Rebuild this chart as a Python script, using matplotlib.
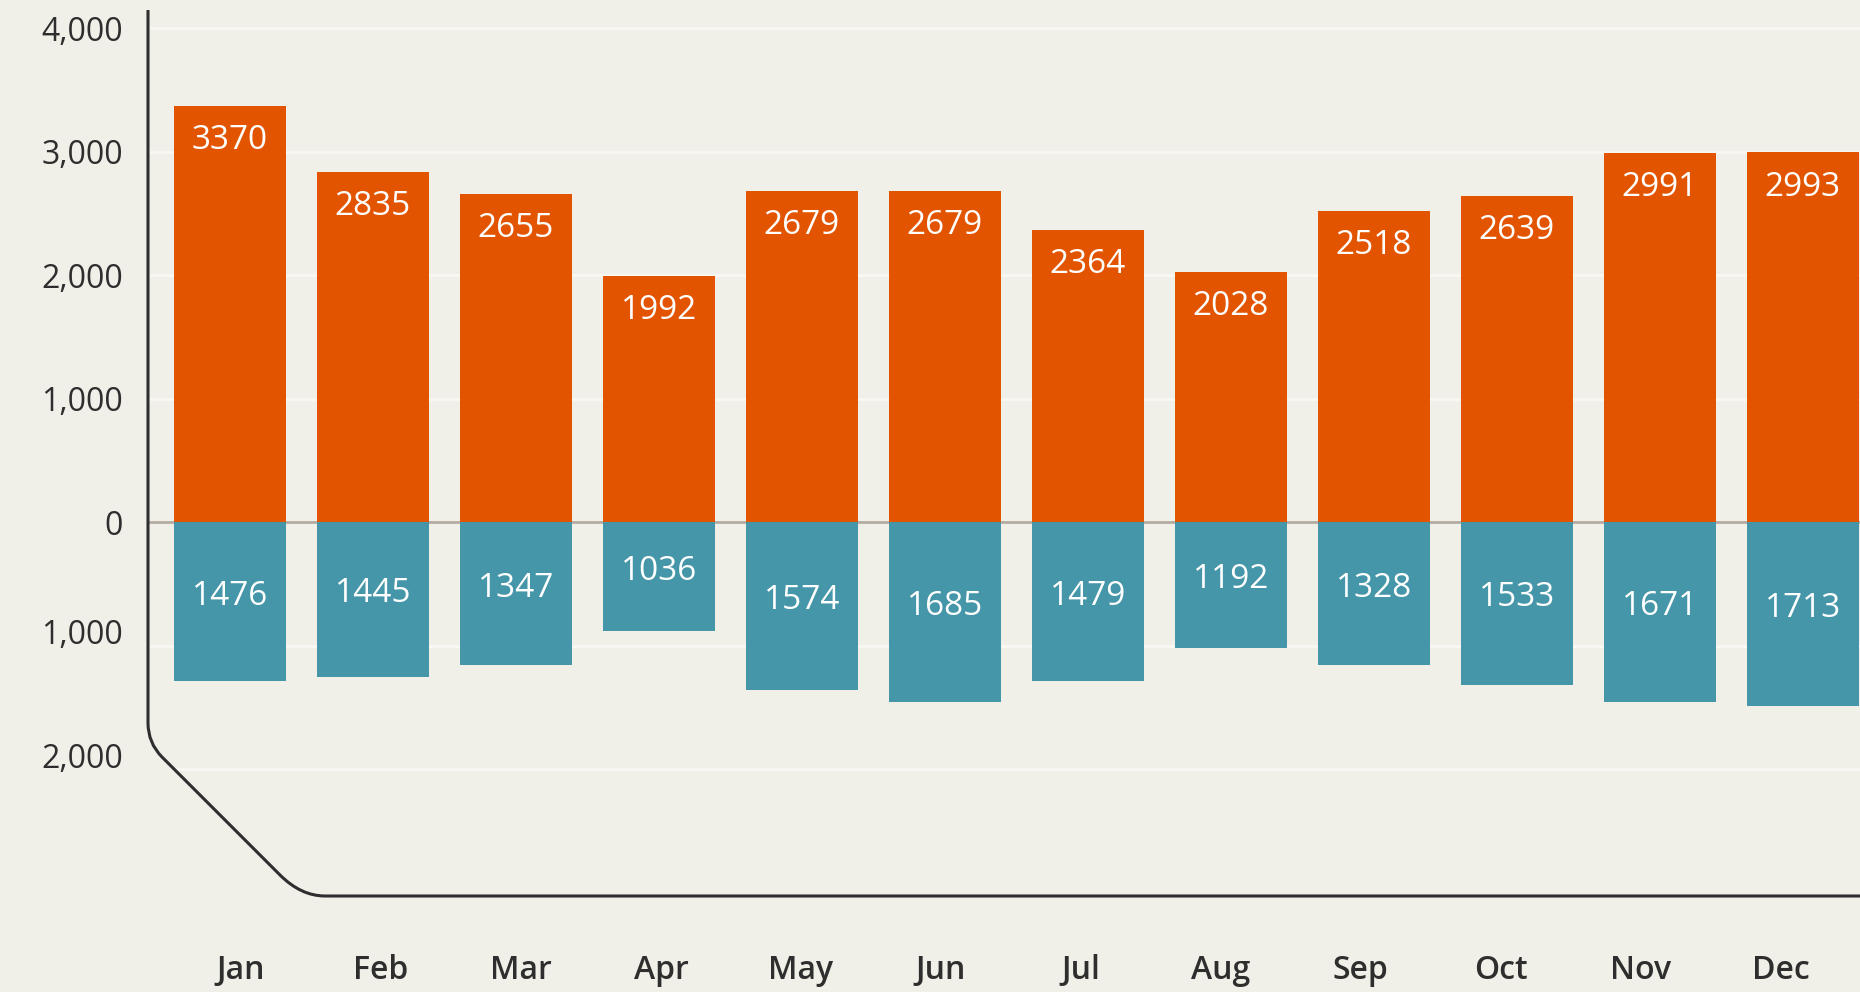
import numpy as np
import matplotlib
matplotlib.use("Agg")
import matplotlib.pyplot as plt
from matplotlib.path import Path
from matplotlib.patches import PathPatch
from matplotlib.transforms import ScaledTranslation

# month labels
months = ["Jan", "Feb", "Mar", "Apr", "May", "Jun",
          "Jul", "Aug", "Sep", "Oct", "Nov", "Dec"]
# upper (orange) series, as labelled and drawn
upper_values = [3370, 2835, 2655, 1992, 2679, 2679, 2364, 2028, 2518, 2639, 2991, 2993]
# lower (teal) series, as labelled
lower_labels = [1476, 1445, 1347, 1036, 1574, 1685, 1479, 1192, 1328, 1533, 1671, 1713]
# lower series bar depth (bars are drawn shorter than their labels)
lower_bars = [1290, 1255, 1160, 885, 1360, 1460, 1290, 1020, 1160, 1320, 1460, 1490]
ytick_values = [-2000, -1000, 0, 1000, 2000, 3000, 4000]
ytick_labels = ["2,000", "1,000", "0", "1,000", "2,000", "3,000", "4,000"]

BG = "#f0efe8"
ORANGE = "#e35400"
TEAL = "#4496a8"
INK = "#2e2e2e"
FONT = ["Open Sans", "DejaVu Sans"]

W, H = 1860, 992
fig = plt.figure(figsize=(W / 100, H / 100), dpi=100, facecolor=BG)
# axes box in pixels: left 148, right 1860, top 10, bottom 896
ax = fig.add_axes([148 / W, 1 - 896 / H, (W - 148) / W, (896 - 10) / H])
ax.set_facecolor(BG)
for s in ax.spines.values():
    s.set_visible(False)

x = np.arange(len(months))
ax.bar(x, upper_values, width=0.78, color=ORANGE, zorder=3, linewidth=0)
ax.bar(x, -np.array(lower_bars), width=0.78, color=TEAL, zorder=3, linewidth=0)
ax.axhline(0, color="#b4aaa2", lw=2, zorder=2)

ax.set_xlim(-0.573, 11.4)
ax.set_ylim(-3028, 4146)

# value labels
for xi, v in zip(x, upper_values):
    ax.annotate(str(v), (xi, v), xytext=(0, -25), textcoords="offset points",
                ha="center", va="center", color="white", fontsize=24, family=FONT)
for xi, h, lab in zip(x, lower_bars, lower_labels):
    ax.annotate(str(lab), (xi, -h / 2), xytext=(0, 4), textcoords="offset points",
                ha="center", va="center", color="white", fontsize=24, family=FONT)

ax.set_xticks(x)
ax.set_xticklabels(months, fontsize=23, color=INK, family=FONT, fontweight="semibold")
ax.set_yticks(ytick_values)
ax.set_yticklabels(ytick_labels, fontsize=23, color=INK, family=FONT, fontweight="medium")
ax.tick_params(axis="both", length=0)
ax.tick_params(axis="x", pad=42)
ax.tick_params(axis="y", pad=18)

# month names run on a slightly tighter spacing than the bars
for i, lab in enumerate(ax.get_xticklabels()):
    lab.set_transform(lab.get_transform() + ScaledTranslation((11 - 3 * i) / 100, 0, fig.dpi_scale_trans))

# negative-side labels sit a little above their gridlines
for val, lab in zip(ytick_values, ax.get_yticklabels()):
    if val < 0:
        lab.set_transform(lab.get_transform() + ScaledTranslation(0, 14 / 100, fig.dpi_scale_trans))

ax.grid(axis="y", color="#f8f7f3", lw=2, zorder=1)
ax.set_axisbelow(True)


def px(xp, yp):
    return (xp / W, 1 - yp / H)


# the frame: vertical line, rounded corner, 45 degree cut, rounded corner, baseline
verts = [px(148, 10), px(148, 723), px(148, 743), px(162, 757),
         px(280, 875), px(301, 896), px(325, 896), px(1860, 896)]
codes = [Path.MOVETO, Path.LINETO, Path.CURVE3, Path.CURVE3,
         Path.LINETO, Path.CURVE3, Path.CURVE3, Path.LINETO]
frame = PathPatch(Path(verts, codes), fill=False, edgecolor=INK, lw=2.2,
                  transform=fig.transFigure, capstyle="butt", joinstyle="round")
fig.patches.append(frame)

# keep the gridlines inside the cut corner
clip = PathPatch(Path([px(148, 0), px(148, 743), px(301, 896), px(1860, 896), px(1860, 0), px(148, 0)],
                      closed=True), transform=fig.transFigure)
for gl in ax.get_ygridlines():
    gl.set_clip_path(clip)

fig.savefig("out.png", dpi=100, facecolor=BG)
